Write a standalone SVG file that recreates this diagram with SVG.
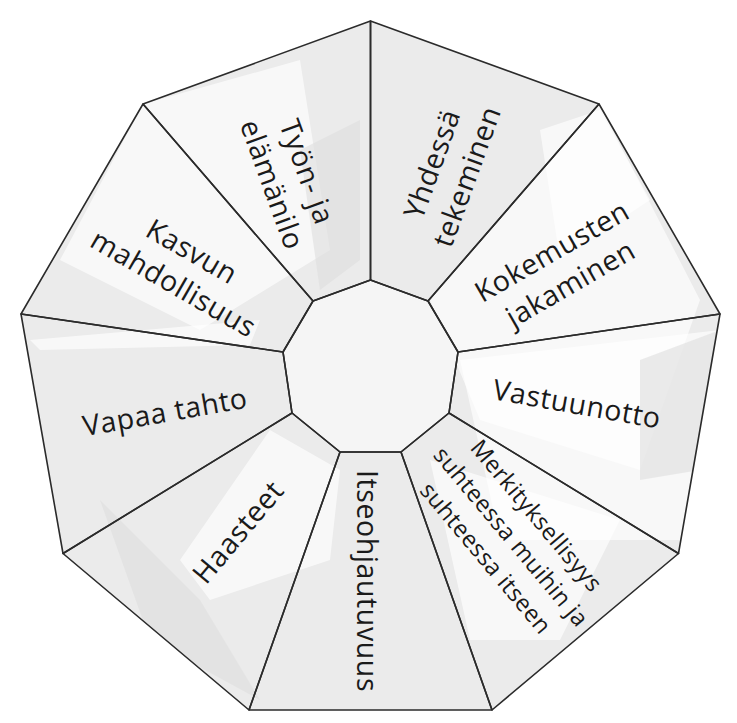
<svg xmlns="http://www.w3.org/2000/svg" width="737" height="723" viewBox="0 0 737 723">
<style>
.seg{stroke:#2b2b2b;stroke-width:1.6;stroke-linejoin:round}
.lbl{font-family:"Open Sans","DejaVu Sans",sans-serif;font-size:28.5px;fill:#1a1a1a;text-anchor:middle;letter-spacing:0.6px}
.sm{font-size:23.5px;letter-spacing:0.4px}
.patch{fill:#ffffff;opacity:0.65}
.dark{fill:#dedede;opacity:0.6}
</style>
<defs>
<clipPath id="outer"><polygon points="370.5,21 599,104 720,314 678.5,553.5 492,710 249,710 63,553.5 21,314 143,104"/></clipPath>
</defs>
<rect width="737" height="723" fill="#ffffff"/>
<g id="texture" clip-path="url(#outer)">
<polygon points="370.5,21 599,104 720,314 678.5,553.5 492,710 249,710 63,553.5 21,314 143,104" fill="#ebebeb"/>
<polygon class="patch" points="143,104 300,60 330,250 200,330 60,260"/>
<polygon class="patch" points="430,300 599,104 700,300 640,470 480,420"/>
<polygon class="patch" points="460,360 720,330 690,540 500,540"/>
<polygon class="patch" points="430,460 620,520 560,640 470,640"/>
<polygon class="patch" points="30,340 260,320 250,345 40,350"/>
<polygon class="patch" points="270,430 340,470 330,560 210,600 180,560"/>
<polygon class="patch" points="540,130 600,110 650,200 560,260"/>
<polygon class="dark" points="300,150 360,120 360,260 320,290"/>
<polygon class="dark" points="100,500 200,600 260,700 150,640"/>
<polygon class="dark" points="640,360 720,330 700,470 640,480"/>
</g>
<g id="hub"><polygon class="seg" points="370.5,280 428,301 458,352 449,413 401,452 340,452 292,413 283,352 313,301" fill="#f5f5f5"/></g>
<g id="seg-yhdessa">
<polygon class="seg" fill="none" points="370.5,21 599,104 428,301 370.5,280"/>
<text class="lbl" transform="translate(449,170) rotate(-70)"><tspan x="0" y="-8">Yhdessä</tspan><tspan x="0" y="29">tekeminen</tspan></text>
</g>
<g id="seg-kokemusten">
<polygon class="seg" fill="none" points="599,104 720,314 458,352 428,301"/>
<text class="lbl" transform="translate(561,267) rotate(-30)"><tspan x="0" y="-8">Kokemusten</tspan><tspan x="0" y="29">jakaminen</tspan></text>
</g>
<g id="seg-vastuunotto">
<polygon class="seg" fill="none" points="720,314 678.5,553.5 449,413 458,352"/>
<text class="lbl" transform="translate(577,404) rotate(10)"><tspan x="0" y="10">Vastuunotto</tspan></text>
</g>
<g id="seg-merkityksellisyys">
<polygon class="seg" fill="none" points="678.5,553.5 492,710 401,452 449,413"/>
<text class="lbl sm" transform="translate(511,537) rotate(50)"><tspan x="0" y="-25">Merkityksellisyys</tspan><tspan x="0" y="8">suhteessa muihin ja</tspan><tspan x="0" y="41">suhteessa itseen</tspan></text>
</g>
<g id="seg-itseohjautuvuus">
<polygon class="seg" fill="none" points="492,710 249,710 340,452 401,452"/>
<text class="lbl" transform="translate(367,581) rotate(90)"><tspan x="0" y="10">Itseohjautuvuus</tspan></text>
</g>
<g id="seg-haasteet">
<polygon class="seg" fill="none" points="249,710 63,553.5 292,413 340,452"/>
<text class="lbl" transform="translate(238,532) rotate(-50)"><tspan x="0" y="10">Haasteet</tspan></text>
</g>
<g id="seg-vapaa">
<polygon class="seg" fill="none" points="63,553.5 21,314 283,352 292,413"/>
<text class="lbl" transform="translate(165,412) rotate(-10)"><tspan x="0" y="10">Vapaa tahto</tspan></text>
</g>
<g id="seg-kasvun">
<polygon class="seg" fill="none" points="21,314 143,104 313,301 283,352"/>
<text class="lbl" transform="translate(183,267) rotate(30)"><tspan x="0" y="-8">Kasvun</tspan><tspan x="0" y="29">mahdollisuus</tspan></text>
</g>
<g id="seg-tyon">
<polygon class="seg" fill="none" points="143,104 370.5,21 370.5,280 313,301"/>
<text class="lbl" transform="translate(290,178) rotate(70)"><tspan x="0" y="-8">Työn- ja</tspan><tspan x="0" y="29">elämänilo</tspan></text>
</g>
</svg>
